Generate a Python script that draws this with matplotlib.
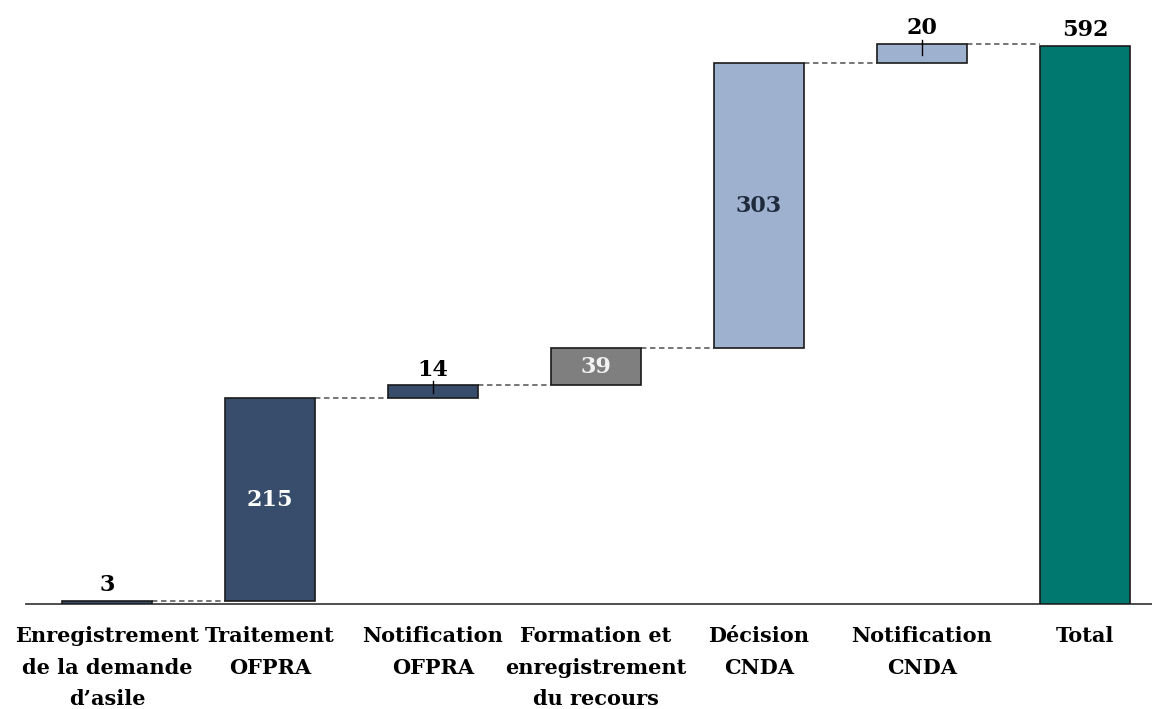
import matplotlib
matplotlib.use("Agg")
import matplotlib.pyplot as plt

categories = ["Enregistrement\nde la demande\nd’asile", "Traitement\nOFPRA", "Notification\nOFPRA",
              "Formation et\nenregistrement\ndu recours", "Décision\nCNDA", "Notification\nCNDA", "Total"]
values = [3, 215, 14, 39, 303, 20, 592]
is_total = [False, False, False, False, False, False, True]
bar_colors = ["#384D6C", "#384D6C", "#384D6C", "#7F7F7F", "#9EB1CF", "#9EB1CF", "#00776F"]
label_inside = [False, True, False, True, True, False, False]
inside_colors = [None, "white", None, "#F2F2F2", "#1F2A3C", None, None]

fig = plt.figure(figsize=(11.52, 7.09), dpi=100)
ax = fig.add_axes([25.5/1152, 105/709, 1141/1152, 594/709])
font = "DejaVu Serif"

bottoms = []
cum = 0
for v, t in zip(values, is_total):
    if t:
        bottoms.append(0)
    else:
        bottoms.append(cum)
        cum += v

w = 0.55
x = list(range(len(values)))
ax.bar(x, values, bottom=bottoms, width=w, color=bar_colors, edgecolor="#1A1A1A", linewidth=1.2, zorder=3)

# connectors
for i in range(len(values) - 1):
    level = bottoms[i] + values[i]
    ax.plot([i + w/2, i + 1 - w/2], [level, level], ls=(0, (3, 2)), color="#6A6A6A", lw=1.3, zorder=2)

for i, (v, b) in enumerate(zip(values, bottoms)):
    if label_inside[i]:
        ax.text(i, b + v/2, str(v), ha="center", va="center", fontsize=16, fontweight="bold",
                family=font, color=inside_colors[i], zorder=4)
    else:
        ax.text(i, b + v + 5, str(v), ha="center", va="bottom", fontsize=16, fontweight="bold",
                family=font, color="black", zorder=4)

# small tick marks on small bars
for i in (2, 5):
    top = bottoms[i] + values[i]
    ax.plot([i, i], [top + 4, top - values[i]*0.6], color="black", lw=1.0, zorder=4)

ax.set_xlim(-0.5, len(values) - 0.5)
ax.set_ylim(0, 630)
ax.set_xticks(x)
ax.set_xticklabels(categories, fontsize=15, fontweight="bold", family=font, linespacing=1.72)
ax.tick_params(axis="x", length=0, pad=16)
ax.set_yticks([])
for s in ["top", "right", "left"]:
    ax.spines[s].set_visible(False)
ax.spines["bottom"].set_color("#404040")
ax.spines["bottom"].set_linewidth(1.3)

fig.savefig("out.png", dpi=100)
